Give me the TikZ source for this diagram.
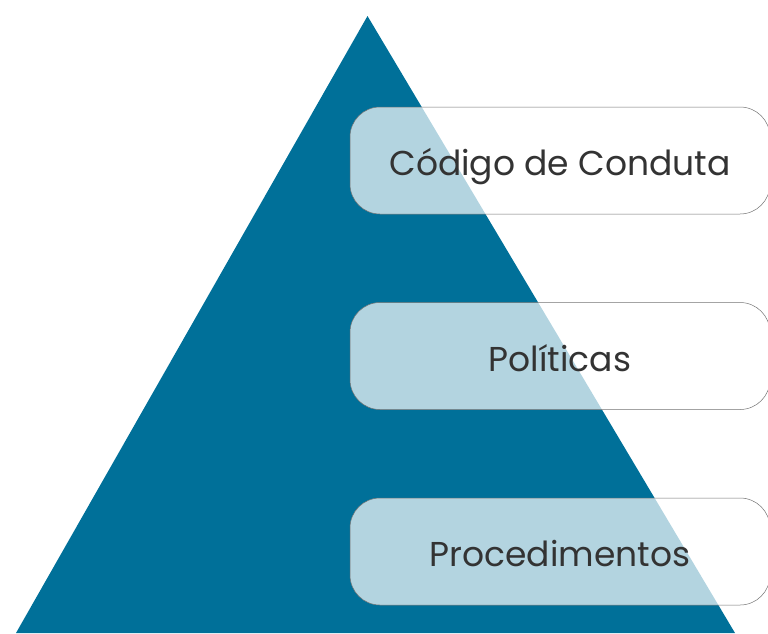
\documentclass[tikz,border=0pt]{standalone}
\usepackage{fontspec}
\setmainfont{Poppins}
\usepackage{tikz}
\usetikzlibrary{positioning}
\definecolor{piramide}{RGB}{0,112,153}
\definecolor{texto}{RGB}{51,51,51}
\tikzstyle{nivel} = [rectangle, rounded corners=30pt, minimum width=420pt, minimum height=107pt, text centered, text height=33pt, text depth=3pt, draw=black!55, line width=0.5pt, fill=white, fill opacity=0.7, text opacity=1, text=texto, font=\fontsize{34.5}{40}\selectfont]

\begin{document}
\begin{tikzpicture}[x=1pt, y=-1pt, node distance=88pt]
    \useasboundingbox (0,0) rectangle (768,633);
    % piramide
    \fill [piramide] (367.5,16) -- (735,633) -- (16,633) -- cycle;
    % niveis
    \node (codigo) [nivel] at (560,160.5) {Código de Conduta};
    \node (politicas) [nivel, below=of codigo] {Políticas};
    \node (procedimentos) [nivel, below=of politicas] {Procedimentos};
\end{tikzpicture}
\end{document}
